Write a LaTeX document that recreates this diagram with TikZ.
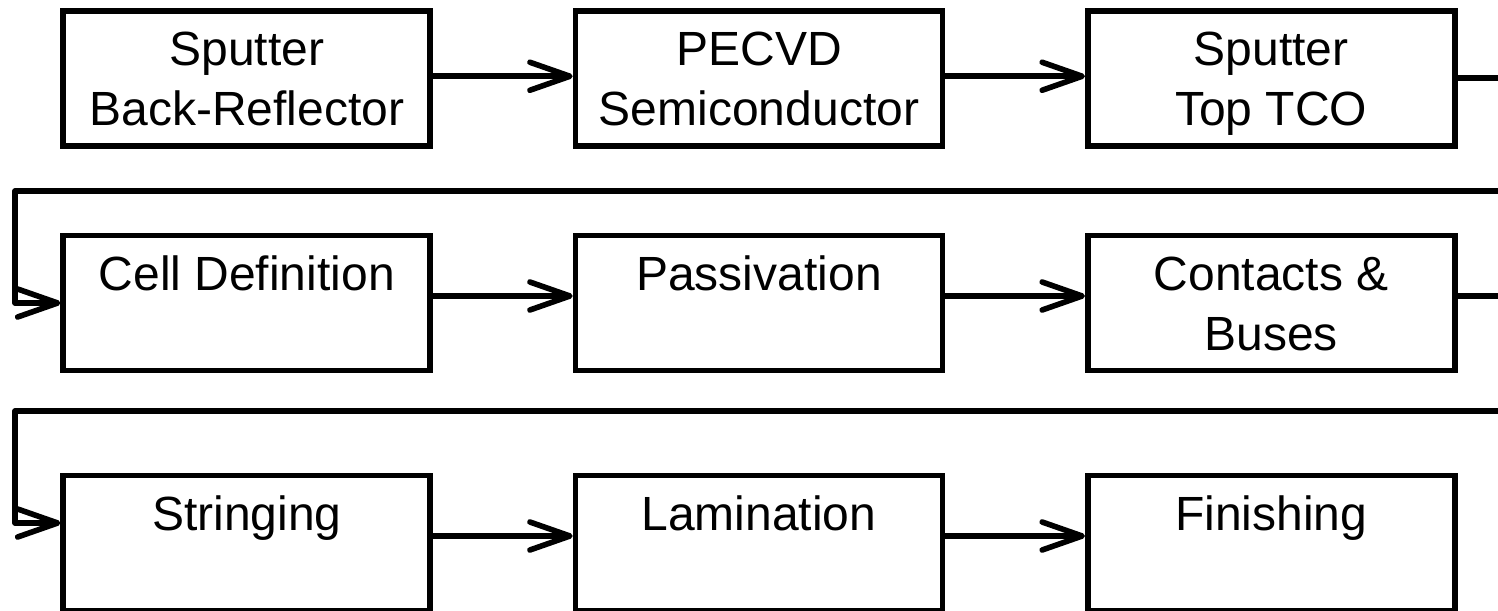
\documentclass[tikz,border=0pt]{standalone}
\usepackage{fontspec}
\setmainfont{Liberation Sans}
\usetikzlibrary{arrows.meta}
\begin{document}
\begin{tikzpicture}[x=0.5pt,y=-0.5pt,
  stepbox/.style={draw, line width=2.8pt, minimum width=183.5pt, minimum height=67.5pt, inner sep=0pt},
  txt/.style={font=\fontsize{24}{30}\selectfont, align=center, inner sep=0pt, anchor=north},
  flow/.style={line width=2.8pt, line join=round, -{Straight Barb[length=20pt,width=14pt,round]}},
  wire/.style={line width=2.8pt, line join=round}]
\useasboundingbox (0,0) rectangle (1498,610);

% process boxes, three rows of three
\node[stepbox] (b1) at (246.75,78.25) {};
\node[stepbox] (b2) at (759,78.25) {};
\node[stepbox] (b3) at (1271.25,78.25) {};
\node[stepbox] (b4) at (246.75,303) {};
\node[stepbox] (b5) at (759,303) {};
\node[stepbox] (b6) at (1271.25,303) {};
\node[stepbox] (b7) at (246.75,543) {};
\node[stepbox] (b8) at (759,543) {};
\node[stepbox] (b9) at (1271.25,543) {};

% box captions, hung from the top edge
\node[txt] (t1) at ([yshift=-7.5pt]b1.north) {\strut Sputter\\\strut Back-Reflector};
\node[txt] (t2) at ([yshift=-7.5pt]b2.north) {\strut PECVD\\\strut Semiconductor};
\node[txt] (t3) at ([yshift=-7.5pt]b3.north) {\strut Sputter\\\strut Top TCO};
\node[txt] (t4) at ([yshift=-7.5pt]b4.north) {\strut Cell Definition};
\node[txt] (t5) at ([yshift=-7.5pt]b5.north) {\strut Passivation};
\node[txt] (t6) at ([yshift=-7.5pt]b6.north) {\strut Contacts \&\\\strut Buses};
\node[txt] (t7) at ([yshift=-7.5pt]b7.north) {\strut Stringing};
\node[txt] (t8) at ([yshift=-7.5pt]b8.north) {\strut Lamination};
\node[txt] (t9) at ([yshift=-7.5pt]b9.north) {\strut Finishing};

% arrows within each row
\draw[flow] ([yshift=1pt]b1.east) -- ([yshift=1pt]b2.west);
\draw[flow] ([yshift=1pt]b2.east) -- ([yshift=1pt]b3.west);
\draw[flow] ([yshift=3.5pt]b4.east) -- ([yshift=3.5pt]b5.west);
\draw[flow] ([yshift=3.5pt]b5.east) -- ([yshift=3.5pt]b6.west);
\draw[flow] ([yshift=3.5pt]b7.east) -- ([yshift=3.5pt]b8.west);
\draw[flow] ([yshift=3.5pt]b8.east) -- ([yshift=3.5pt]b9.west);

% return lines from the end of one row to the start of the next
\coordinate (e1) at (1530,191);
\coordinate (l1) at (15,191);
\coordinate (e2) at (1530,411);
\coordinate (l2) at (15,411);
\draw[flow] (b3.east) -| (e1) -- (l1) |- (b4.west);
\draw[flow] ([yshift=3.5pt]b6.east) -| (e2) -- (l2) |- ([yshift=10pt]b7.west);
\end{tikzpicture}
\end{document}
